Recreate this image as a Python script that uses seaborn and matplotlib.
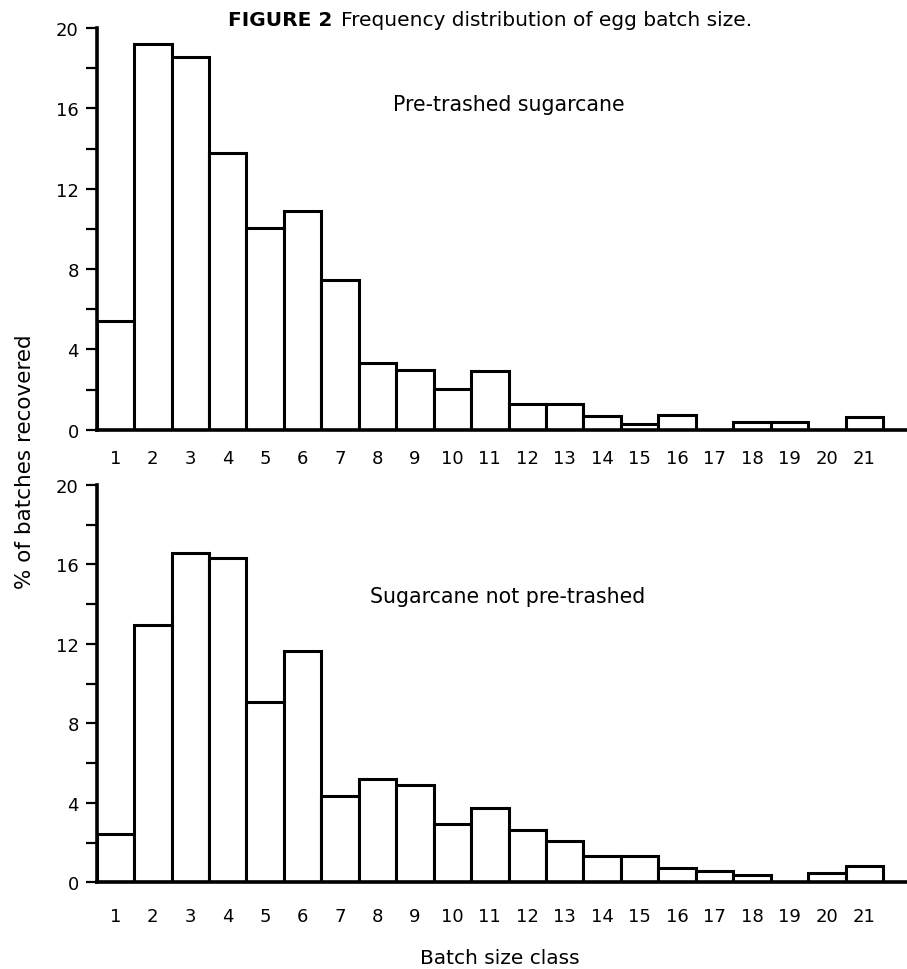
import matplotlib
matplotlib.use("Agg")
import matplotlib.pyplot as plt
import seaborn as sns
import pandas as pd
from matplotlib.ticker import MultipleLocator

sns.set_style("ticks")
plt.rcParams['font.family'] = ['DejaVu Sans']

classes = [str(i) for i in range(1, 22)]
pre_trashed = [5.4, 19.2, 18.55, 13.8, 10.05, 10.9, 7.45, 3.3, 2.95, 2.05, 2.9,
               1.3, 1.28, 0.7, 0.28, 0.73, 0.0, 0.37, 0.37, 0.0, 0.62]
not_pre_trashed = [2.43, 12.95, 16.57, 16.34, 9.06, 11.63, 4.36, 5.2, 4.9, 2.93, 3.74,
                   2.65, 2.09, 1.34, 1.34, 0.74, 0.55, 0.38, 0.0, 0.48, 0.81]
panel_labels = ["Pre-trashed sugarcane", "Sugarcane not pre-trashed"]
y_ticks = [0, 4, 8, 12, 16, 20]

W, H = 907, 970
fig = plt.figure(figsize=(W / 100, H / 100), dpi=100)

def fx(px):
    return px / W

def fy(py):
    return 1 - py / H

ax_top = fig.add_axes([fx(96.7), fy(430.7), 1 - fx(96.7), fy(29) - fy(430.7)])
ax_bot = fig.add_axes([fx(96.7), fy(883.3), 1 - fx(96.7), fy(486) - fy(883.3)])

panels = [(ax_top, pre_trashed, panel_labels[0], (393, 105), 14),
          (ax_bot, not_pre_trashed, panel_labels[1], (370, 597), 18)]

for ax, vals, lab, pos, pad in panels:
    df = pd.DataFrame({"cls": classes, "val": vals})
    sns.barplot(data=df, x="cls", y="val", ax=ax, color="white",
                edgecolor="black", linewidth=2.2, width=1.0, saturation=1)
    ax.set_xlim(-0.5, 21.14)
    ax.set_ylim(0, 20)
    ax.set_yticks(y_ticks)
    ax.yaxis.set_minor_locator(MultipleLocator(2))
    ax.tick_params(axis="y", which="both", direction="out", length=8, width=1.6,
                   labelsize=13, pad=5, color="black", labelcolor="black")
    ax.tick_params(axis="x", length=0, labelsize=13, pad=pad, labelcolor="black")
    ax.set_xlabel("")
    ax.set_ylabel("")
    for s in ["top", "right"]:
        ax.spines[s].set_visible(False)
    for s in ["left", "bottom"]:
        ax.spines[s].set_linewidth(2.6)
        ax.spines[s].set_color("black")
    ax.set_facecolor("white")
    fig.text(fx(pos[0]), fy(pos[1]), lab, fontsize=14.8, ha="left", va="center",
             color="black")

fig.text(fx(25), fy(462), "% of batches recovered", rotation=90,
         fontsize=15.5, ha="center", va="center", color="black")
fig.text(fx(500), fy(959), "Batch size class", fontsize=14.5, ha="center",
         va="center", color="black")

t1 = fig.text(fx(228), fy(20), "FIGURE 2", fontsize=14.5, fontweight="bold",
              ha="left", va="center", color="black")
fig.canvas.draw()
bb = t1.get_window_extent(renderer=fig.canvas.get_renderer())
fig.text(bb.x1 / W + fx(9), fy(20), "Frequency distribution of egg batch size.",
         fontsize=14.5, ha="left", va="center", color="black")

fig.savefig("out.png", dpi=100, facecolor="white")
